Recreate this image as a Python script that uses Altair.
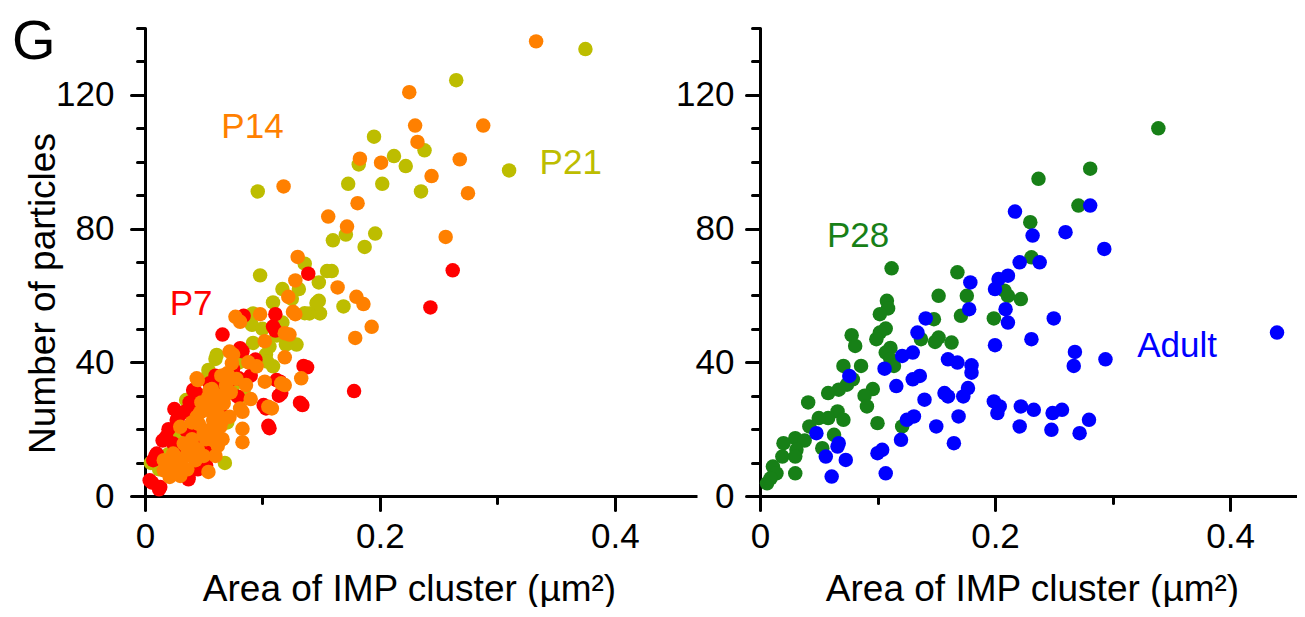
import altair as alt
import pandas as pd

FONT = "Liberation Sans"

# ---------------- data ----------------
# P7 (red)
p7_x = [0.262, 0.243, 0.178, 0.139, 0.111, 0.111, 0.066, 0.084, 0.083, 0.094, 0.138, 0.115, 0.114, 0.134,
        0.106, 0.103, 0.080, 0.062, 0.043, 0.037, 0.012, 0.006, 0.015, 0.009, 0.052, 0.028, 0.034, 0.109,
        0.135, 0.132, 0.105, 0.112, 0.116, 0.101, 0.081, 0.085, 0.079, 0.041, 0.030, 0.027, 0.018, 0.010,
        0.007, 0.004, 0.013, 0.037, 0.051, 0.058, 0.057, 0.070, 0.072, 0.055, 0.044, 0.035, 0.024, 0.048,
        0.064, 0.020, 0.046, 0.075, 0.090, 0.020, 0.025, 0.038, 0.050, 0.060, 0.045, 0.030]
p7_y = [67.5, 56.4, 31.4, 66.5, 54.4, 49.5, 48.3, 53.9, 43.3, 40.8, 38.5, 34.2, 30.0, 27.2,
        20.3, 26.2, 35.2, 32.7, 31.2, 5.0, 2.0, 4.0, 16.6, 12.1, 9.1, 23.2, 25.2, 50.7,
        38.9, 27.9, 21.0, 34.7, 30.7, 27.2, 44.2, 34.2, 29.7, 31.7, 24.7, 22.7, 17.7, 12.7,
        10.7, 4.7, 2.7, 5.6, 10.3, 13.8, 17.7, 31.7, 34.7, 33.7, 26.7, 19.7, 15.7, 14.8,
        25.7, 8.0, 20.0, 38.0, 36.0, 20.0, 26.0, 28.0, 30.0, 36.0, 8.0, 13.0]

# P14 (orange)
p14_x = [0.333, 0.225, 0.230, 0.288, 0.232, 0.268, 0.183, 0.201, 0.244, 0.118, 0.275, 0.181, 0.156, 0.172,
         0.256, 0.130, 0.128, 0.164, 0.122, 0.180, 0.186, 0.077, 0.098, 0.128, 0.126, 0.193, 0.179, 0.123,
         0.102, 0.119, 0.075, 0.095, 0.133, 0.119, 0.102, 0.086, 0.045, 0.108, 0.083, 0.083, 0.083, 0.081,
         0.119, 0.072, 0.074, 0.044, 0.055, 0.070, 0.116, 0.105, 0.081, 0.054, 0.044, 0.030, 0.058, 0.064,
         0.050, 0.058, 0.033, 0.024, 0.016, 0.021, 0.016, 0.021, 0.030, 0.043, 0.054, 0.051, 0.067, 0.072,
         0.062, 0.048, 0.038, 0.027, 0.060, 0.066, 0.040, 0.056, 0.063, 0.069, 0.090, 0.046, 0.035,
         0.035, 0.045, 0.052, 0.060, 0.065, 0.040, 0.047, 0.056, 0.061, 0.068, 0.073, 0.078, 0.025, 0.030,
         0.036, 0.050, 0.062, 0.057, 0.065, 0.088]
p14_y = [136.0, 120.8, 110.8, 110.8, 105.9, 100.7, 100.9, 99.7, 95.7, 92.6, 90.6, 87.6, 83.6, 80.6,
         77.5, 71.5, 64.5, 62.4, 59.6, 59.6, 57.4, 53.6, 54.4, 54.4, 55.1, 50.6, 47.3, 48.3,
         46.3, 41.5, 42.3, 38.8, 35.2, 33.2, 34.2, 33.2, 34.7, 26.2, 25.2, 20.1, 16.1, 52.1,
         48.7, 43.2, 39.7, 35.2, 31.7, 36.7, 33.7, 26.7, 26.2, 29.7, 23.7, 20.7, 22.7, 20.7,
         18.7, 16.7, 15.7, 12.7, 10.7, 8.7, 7.7, 5.7, 10.7, 10.7, 7.2, 25.7, 27.7, 23.7,
         30.0, 28.0, 13.0, 9.0, 12.0, 17.0, 17.0, 20.0, 24.0, 33.0, 29.0, 21.5, 12.0,
         15.0, 14.0, 17.0, 19.0, 22.0, 22.0, 25.0, 26.0, 28.0, 30.0, 31.0, 35.0, 9.0, 6.0,
         8.0, 12.0, 15.0, 32.0, 36.0, 40.0]

# P21 (olive)
p21_x = [0.375, 0.265, 0.195, 0.212, 0.222, 0.238, 0.182, 0.310, 0.173, 0.202, 0.235, 0.096, 0.196, 0.160,
         0.171, 0.187, 0.098, 0.136, 0.155, 0.159, 0.148, 0.117, 0.131, 0.169, 0.148, 0.149, 0.140, 0.109,
         0.092, 0.091, 0.117, 0.129, 0.120, 0.092, 0.103, 0.109, 0.060, 0.054, 0.035, 0.068, 0.005, 0.061,
         0.054, 0.104, 0.106, 0.146, 0.136, 0.112, 0.080, 0.075, 0.046, 0.062, 0.028, 0.040, 0.020, 0.012,
         0.085, 0.070, 0.100, 0.125]
p21_y = [133.7, 124.4, 107.5, 101.7, 98.7, 103.4, 99.2, 97.4, 93.4, 93.4, 91.1, 91.1, 78.5, 76.5,
         78.2, 74.5, 66.0, 69.5, 67.3, 67.3, 63.9, 61.9, 61.9, 56.7, 58.4, 54.6, 54.6, 57.9,
         54.6, 51.2, 51.9, 45.3, 45.3, 45.8, 42.3, 38.8, 41.0, 36.3, 28.7, 9.9, 9.9, 42.2,
         37.7, 40.2, 44.7, 57.7, 54.7, 48.0, 40.0, 33.0, 27.0, 26.0, 18.0, 20.5, 12.5, 8.0,
         30.0, 22.0, 50.0, 59.0]

# P28 (green)
p28_x = [0.339, 0.281, 0.237, 0.271, 0.230, 0.231, 0.112, 0.168, 0.152, 0.176, 0.108, 0.109, 0.102, 0.211,
         0.222, 0.208, 0.171, 0.199, 0.148, 0.107, 0.102, 0.099, 0.078, 0.081, 0.137, 0.152, 0.149, 0.163,
         0.111, 0.107, 0.111, 0.114, 0.071, 0.086, 0.079, 0.074, 0.067, 0.058, 0.096, 0.089, 0.091, 0.041,
         0.066, 0.071, 0.058, 0.050, 0.042, 0.100, 0.121, 0.063, 0.030, 0.020, 0.038, 0.031, 0.053, 0.019,
         0.030, 0.011, 0.014, 0.030, 0.006, 0.009]
p28_y = [110.0, 97.9, 94.9, 86.9, 81.9, 71.4, 68.1, 66.9, 59.9, 59.9, 58.4, 56.1, 54.4, 59.9,
         58.9, 61.4, 53.9, 53.1, 52.9, 50.1, 48.9, 46.9, 48.1, 44.9, 46.9, 47.4, 46.1, 45.9,
         44.3, 42.9, 40.9, 38.9, 38.9, 38.9, 34.9, 33.3, 31.8, 30.8, 32.0, 30.0, 26.8, 28.0,
         25.3, 22.8, 23.3, 23.3, 20.8, 21.8, 20.8, 18.3, 17.3, 15.8, 16.6, 13.8, 14.3, 11.8,
         11.8, 8.8, 6.8, 6.8, 3.8, 5.3]

# Adult (blue)
adult_x = [0.440, 0.281, 0.217, 0.260, 0.232, 0.293, 0.221, 0.238, 0.211, 0.203, 0.179, 0.200, 0.209, 0.178,
           0.211, 0.250, 0.141, 0.134, 0.200, 0.231, 0.268, 0.267, 0.294, 0.121, 0.130, 0.160, 0.168, 0.180,
           0.180, 0.106, 0.076, 0.116, 0.130, 0.136, 0.157, 0.160, 0.177, 0.173, 0.140, 0.199, 0.204, 0.202,
           0.222, 0.233, 0.249, 0.257, 0.169, 0.131, 0.125, 0.280, 0.150, 0.221, 0.248, 0.272, 0.048, 0.120,
           0.067, 0.165, 0.066, 0.104, 0.100, 0.056, 0.073, 0.061, 0.107]
adult_y = [48.9, 86.9, 85.1, 78.9, 77.9, 73.9, 69.9, 69.9, 65.9, 64.9, 63.9, 61.9, 55.9, 55.9,
           51.9, 53.1, 53.1, 48.9, 45.1, 46.9, 43.1, 38.9, 40.9, 41.9, 42.9, 40.9, 39.9, 39.1,
           36.9, 38.1, 35.9, 32.9, 34.9, 35.9, 30.8, 29.8, 32.3, 29.8, 28.8, 28.3, 26.8, 24.8,
           26.8, 25.8, 24.8, 25.8, 23.8, 23.8, 22.8, 22.8, 20.8, 20.8, 19.8, 18.8, 18.8, 16.8,
           15.8, 15.8, 14.8, 13.8, 12.8, 11.8, 10.8, 5.8, 6.8]

# series labels
left_labels = ["P14", "P21", "P7"]
left_label_x = [0.065, 0.336, 0.021]
left_label_y = [110.5, 99.6, 57.5]
left_label_colors = ["#FF8000", "#BDBD00", "#FF0000"]
right_labels = ["P28", "Adult"]
right_label_x = [0.057, 0.321]
right_label_y = [77.8, 44.9]
right_label_colors = ["#178017", "#0000FF"]

x_major = [0, 0.2, 0.4]
x_minor = [0.1, 0.3]
y_major = [0, 40, 80, 120]
y_minor = [10, 20, 30, 50, 60, 70, 90, 100, 110, 130, 140]

X_TITLE = "Area of IMP cluster (µm²)"
Y_TITLE = "Number of particles"

# ---------------- chart ----------------
W_L, W_R, H = 552, 537, 468
XD_L = [0, 0.47]
XD_R = [0, 0.457]
YD = [0, 140]
PT_SIZE = 210


def x_major_axis(title_x):
    return alt.Axis(orient="bottom", values=x_major, format="~g", tickSize=14, tickWidth=3,
                    tickColor="black", tickCap="round", domainWidth=3, domainColor="black",
                    labelFont=FONT, labelFontSize=35, labelColor="black", labelPadding=9,
                    labelFlush=False, labelOverlap=False, grid=False,
                    title=X_TITLE, titleFont=FONT, titleFontSize=37, titleFontWeight="normal",
                    titleColor="black", titleX=title_x, titleY=104, titleAlign="center",
                    titleBaseline="alphabetic")


def x_minor_axis():
    return alt.Axis(orient="bottom", values=x_minor, tickSize=7, tickWidth=3, tickColor="black",
                    tickCap="round", domain=False, labels=False, grid=False, title="")


def y_major_axis(title, pad):
    kw = dict(orient="left", values=y_major, format="d", tickSize=14, tickWidth=3,
              tickColor="black", tickCap="round", domainWidth=3, domainColor="black",
              labelFont=FONT, labelFontSize=35, labelColor="black", labelPadding=pad,
              labelFlush=False, labelOverlap=False, grid=False, title=title)
    if title:
        kw.update(titleFont=FONT, titleFontSize=37, titleFontWeight="normal", titleColor="black",
                  titleX=-91, titleY=265, titleAngle=270, titleAlign="center",
                  titleBaseline="alphabetic")
    return alt.Axis(**kw)


def y_minor_axis():
    return alt.Axis(orient="left", values=y_minor, tickSize=8, tickWidth=3, tickColor="black",
                    tickCap="round", domain=False, labels=False, grid=False, title="")


def points(xs, ys, color, xdom, xaxis, yaxis):
    df = pd.DataFrame({"x": xs, "y": ys})
    return alt.Chart(df).mark_circle(size=PT_SIZE, opacity=1, color=color).encode(
        x=alt.X("x:Q", scale=alt.Scale(domain=xdom, nice=False, zero=False), axis=xaxis),
        y=alt.Y("y:Q", scale=alt.Scale(domain=YD, nice=False, zero=False), axis=yaxis),
    )


def labels(names, xs, ys, colors, xdom):
    df = pd.DataFrame({"label": names, "x": xs, "y": ys, "c": colors})
    return alt.Chart(df).mark_text(align="left", baseline="middle", font=FONT, fontSize=35).encode(
        x=alt.X("x:Q", scale=alt.Scale(domain=xdom, nice=False, zero=False), axis=None),
        y=alt.Y("y:Q", scale=alt.Scale(domain=YD, nice=False, zero=False), axis=None),
        text="label:N",
        color=alt.Color("c:N", scale=None),
    )


panel_letter = alt.Chart(pd.DataFrame({"t": ["G"]})).mark_text(
    align="left", baseline="alphabetic", font=FONT, fontSize=56, color="black"
).encode(x=alt.value(-133), y=alt.value(31), text="t:N")

left = alt.layer(
    points(p21_x, p21_y, "#BDBD00", XD_L, x_major_axis(264), y_major_axis(Y_TITLE, 17)),
    points(p7_x, p7_y, "#FF0000", XD_L, x_minor_axis(), y_minor_axis()),
    points(p14_x, p14_y, "#FF8000", XD_L, None, None),
    labels(left_labels, left_label_x, left_label_y, left_label_colors, XD_L),
    panel_letter,
).resolve_axis(x="independent", y="independent").properties(width=W_L, height=H)

right = alt.layer(
    points(p28_x, p28_y, "#178017", XD_R, x_major_axis(272), y_major_axis("", 12)),
    points(adult_x, adult_y, "#0000FF", XD_R, x_minor_axis(), y_minor_axis()),
    labels(right_labels, right_label_x, right_label_y, right_label_colors, XD_R),
).resolve_axis(x="independent", y="independent").properties(width=W_R, height=H)

chart = alt.hconcat(left, right, spacing=63, bounds="flush").properties(
    padding={"left": 4, "top": 6, "right": 0, "bottom": 0},
    background="white",
).configure_view(stroke=None)

chart.save("out.html", embed_options={"renderer": "svg", "actions": False})
